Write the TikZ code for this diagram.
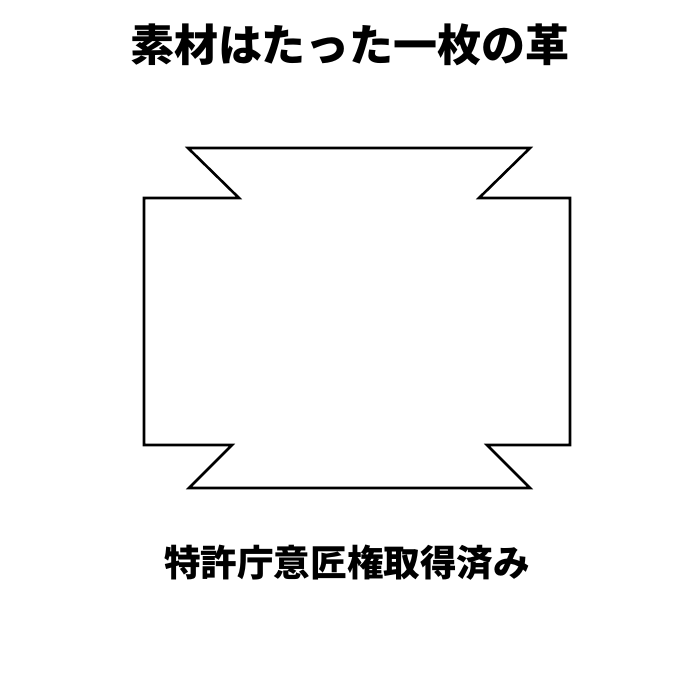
\documentclass[tikz,border=0pt]{standalone}
\usepackage{fontspec}
\newfontfamily\cjk{Noto Sans CJK JP}
\begin{document}
\begin{tikzpicture}[x=1pt,y=-1pt,
  leather/.style={draw=black,line width=2.6pt,line join=miter,fill=white},
  titletext/.style={font=\cjk\bfseries\fontsize{44}{48}\selectfont,inner sep=0pt},
  subtext/.style={font=\cjk\bfseries\fontsize{36.6}{40}\selectfont,inner sep=0pt}]
\useasboundingbox (0,0) rectangle (700,700);
\node[titletext] (title) at (350,45) {素材はたった一枚の革};
\draw[leather] (188,148) coordinate (p1) -- (530,148) -- (479,198) -- (570,198) -- (570,445) -- (487,445) -- (530,488) -- (189,488) -- (232,445) -- (144,445) -- (144,198) -- (239,198) -- cycle;
\node[subtext] (sub) at (347,563) {特許庁意匠権取得済み};
\end{tikzpicture}
\end{document}
